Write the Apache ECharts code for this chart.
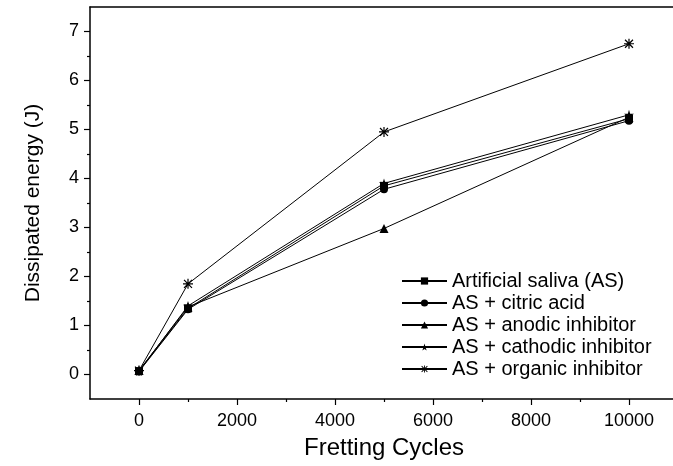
<!DOCTYPE html>
<html>
<head>
<meta charset="utf-8">
<script src="https://cdn.jsdelivr.net/npm/echarts@6/dist/echarts.min.js"></script>
<style>html,body{margin:0;padding:0;background:#fff}#c{width:673px;height:466px}</style>
</head>
<body>
<div id="c"></div>
<script>
var cycles = [0, 1000, 5000, 10000];
var seriesNames = ['Artificial saliva (AS)', 'AS + citric acid', 'AS + anodic inhibitor', 'AS + cathodic inhibitor', 'AS + organic inhibitor'];
var asValues = [0.07, 1.35, 3.85, 5.22];
var citricValues = [0.06, 1.33, 3.78, 5.18];
var anodicValues = [0.08, 1.38, 2.98, 5.25];
var cathodicValues = [0.07, 1.40, 3.90, 5.30];
var organicValues = [0.08, 1.85, 4.95, 6.75];
var xTickLabels = [0, 2000, 4000, 6000, 8000, 10000];
var xMinorTicks = [1000, 3000, 5000, 7000, 9000];
var yTickLabels = [0, 1, 2, 3, 4, 5, 6, 7];
var yMinorTicks = [0.5, 1.5, 2.5, 3.5, 4.5, 5.5, 6.5];

var starPath = 'path://M50,0 L61,35 L98,35 L68,57 L79,91 L50,70 L21,91 L32,57 L2,35 L39,35 Z';
var asteriskPath = 'path://M4.4 0 L5.6 0 L5.6 10 L4.4 10 Z M0 4.4 L10 4.4 L10 5.6 L0 5.6 Z M0.6 1.45 L1.45 0.6 L9.4 8.55 L8.55 9.4 Z M8.55 0.6 L9.4 1.45 L1.45 9.4 L0.6 8.55 Z';
var symbols = ['rect', 'circle', 'triangle', starPath, asteriskPath];
var sizes = [8, 8, 9, 10, 10];
var allValues = [asValues, citricValues, anodicValues, cathodicValues, organicValues];

function pairs(vals) { return cycles.map(function (c, i) { return [c, vals[i]]; }); }

var font = 'Liberation Sans, Arial, sans-serif';
var series = seriesNames.map(function (n, i) {
  return {
    name: n, type: 'line', xAxisIndex: 0, yAxisIndex: 0,
    data: pairs(allValues[i]),
    symbol: symbols[i], symbolSize: sizes[i],
    itemStyle: { color: '#000' },
    lineStyle: { color: '#000', width: 1 },
    emphasis: { disabled: true },
    animation: false
  };
});

var chart = echarts.init(document.getElementById('c'));
chart.setOption({
  animation: false,
  grid: { left: 90, top: 7, width: 588, height: 392, show: false, outerBoundsMode: 'none', containLabel: false },
  legend: {
    orient: 'vertical', left: 396, top: 266, itemWidth: 45, itemHeight: 9, itemGap: 2,
    textStyle: { fontFamily: font, fontSize: 20, color: '#000' },
    data: seriesNames
  },
  xAxis: [{
    type: 'value', min: -1000, max: 11000, interval: 1000,
    name: 'Fretting Cycles', nameLocation: 'middle', nameGap: 37,
    nameTextStyle: { fontFamily: font, fontSize: 24, color: '#000' },
    axisLine: { onZero: false, lineStyle: { color: '#000', width: 1.5 } },
    axisTick: { show: true, length: 6, customValues: xTickLabels, lineStyle: { color: '#000', width: 1.2 } },
    axisLabel: { customValues: xTickLabels, formatter: function (v) { return String(v); }, fontFamily: font, fontSize: 18, color: '#000', margin: 13 },
    splitLine: { show: false }
  }, {
    type: 'value', min: -1000, max: 11000, interval: 1000, position: 'bottom',
    axisLine: { show: false, onZero: false },
    axisTick: { show: true, length: 3, customValues: xMinorTicks, lineStyle: { color: '#000', width: 1.2 } },
    axisLabel: { show: false },
    splitLine: { show: false }
  }, {
    type: 'value', min: -1000, max: 11000, interval: 1000, position: 'top',
    axisLine: { show: true, onZero: false, lineStyle: { color: '#000', width: 1.5 } },
    axisTick: { show: false },
    axisLabel: { show: false },
    splitLine: { show: false }
  }],
  yAxis: [{
    type: 'value', min: -0.5, max: 7.5, interval: 0.5,
    name: 'Dissipated energy (J)', nameLocation: 'middle', nameGap: 46,
    nameTextStyle: { fontFamily: font, fontSize: 21, color: '#000' },
    axisLine: { show: true, onZero: false, lineStyle: { color: '#000', width: 1.5 } },
    axisTick: { show: true, length: 6, customValues: yTickLabels, lineStyle: { color: '#000', width: 1.2 } },
    axisLabel: { customValues: yTickLabels, formatter: function (v) { return String(v); }, fontFamily: font, fontSize: 18, color: '#000', margin: 11 },
    splitLine: { show: false }
  }, {
    type: 'value', min: -0.5, max: 7.5, interval: 0.5, position: 'left',
    axisLine: { show: false, onZero: false },
    axisTick: { show: true, length: 3, customValues: yMinorTicks, lineStyle: { color: '#000', width: 1.2 } },
    axisLabel: { show: false },
    splitLine: { show: false }
  }],
  series: series
});
</script>
</body>
</html>
